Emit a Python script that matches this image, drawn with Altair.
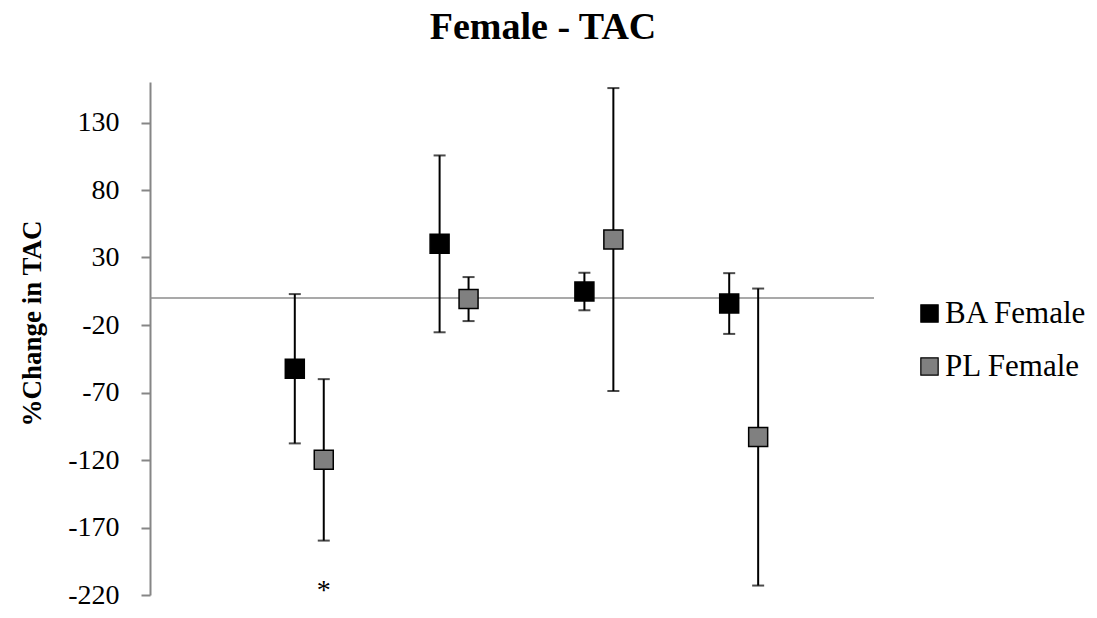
import altair as alt
import pandas as pd

# ---- data ----
groups = [1, 2, 3, 4]
series_names = ["BA Female", "PL Female"]
series_colors = ["#000000", "#808080"]
ba_mean = [-52.4, 40.1, 4.8, -4.1]
ba_err = [55.3, 65.5, 13.9, 22.5]
pl_mean = [-119.9, -0.8, 43.3, -103.0]
pl_err = [59.8, 16.3, 112.2, 110.0]
series_shift = [0.0, 0.2]
y_ticks = [-220, -170, -120, -70, -20, 30, 80, 130]
star_group = [1]
star_series = ["PL Female"]
star_value = [-213]

rows = []
for name, means, errs, shift in zip(series_names, [ba_mean, pl_mean], [ba_err, pl_err], series_shift):
    for g, m, e in zip(groups, means, errs):
        rows.append({"series": name, "x": g + shift, "mean": m, "lo": m - e, "hi": m + e})
df = pd.DataFrame(rows)

star_rows = []
for g, s, v in zip(star_group, star_series, star_value):
    star_rows.append({"x": g + series_shift[series_names.index(s)], "y": v, "t": "*"})
star_df = pd.DataFrame(star_rows)

FONT = "Liberation Serif"
xs = alt.Scale(domain=[0, 5], nice=False, zero=False)
ys = alt.Scale(domain=[-220, 160], nice=False, zero=False)

base = alt.Chart(df)

zero_line = alt.Chart(pd.DataFrame({"y": [0]})).mark_rule(color="#8c8c8c", strokeWidth=1.6).encode(
    y=alt.Y("y:Q", scale=ys)
)

err_lines = base.mark_rule(color="black", strokeWidth=2).encode(
    x=alt.X("x:Q", scale=xs, axis=None),
    y=alt.Y("lo:Q", scale=ys),
    y2="hi:Q",
)
caps_hi = base.mark_tick(color="black", orient="horizontal", size=12, thickness=2).encode(
    x=alt.X("x:Q", scale=xs), y=alt.Y("hi:Q", scale=ys)
)
caps_lo = base.mark_tick(color="black", orient="horizontal", size=12, thickness=2).encode(
    x=alt.X("x:Q", scale=xs), y=alt.Y("lo:Q", scale=ys)
)

points = base.mark_point(filled=True, shape="square", size=361, opacity=1,
                         stroke="black", strokeWidth=1.5).encode(
    x=alt.X("x:Q", scale=xs),
    y=alt.Y(
        "mean:Q",
        scale=ys,
        axis=alt.Axis(
            values=y_ticks,
            labelExpr="'' + datum.value",
            title="%Change in TAC",
            titleFont=FONT,
            titleFontSize=27,
            titleFontWeight="bold",
            titleColor="black",
            titleAngle=270,
            titleX=-110,
            titleY=241,
            titleAlign="center",
            titleBaseline="alphabetic",
            labelFont=FONT,
            labelFontSize=28,
            labelColor="black",
            labelPadding=22,
            tickSize=9,
            tickWidth=2,
            tickColor="#868686",
            domainColor="#868686",
            domainWidth=2,
            grid=False,
        ),
    ),
    color=alt.Color(
        "series:N",
        scale=alt.Scale(domain=series_names, range=series_colors),
        legend=alt.Legend(
            title=None,
            orient="none",
            legendX=764,
            legendY=216,
            symbolType="square",
            symbolSize=300,
            symbolStrokeColor="black",
            symbolStrokeWidth=1.2,
            symbolOpacity=1,
            labelFont=FONT,
            labelFontSize=31,
            labelColor="black",
            labelOffset=0,
            rowPadding=21,
        ),
    ),
)

stars = alt.Chart(star_df).mark_text(font=FONT, fontSize=28, color="black", baseline="middle", dy=5).encode(
    x=alt.X("x:Q", scale=xs), y=alt.Y("y:Q", scale=ys), text="t:N"
)

chart = alt.layer(zero_line, err_lines, caps_hi, caps_lo, points, stars).properties(
    width=724,
    height=513,
    background="white",
    title=alt.TitleParams(
        "Female - TAC",
        font=FONT,
        fontSize=38,
        fontWeight="bold",
        color="black",
        anchor="middle",
        dx=31,
        offset=35,
    ),
    padding={"left": 150, "top": 82, "right": 223, "bottom": 23},
    autosize=alt.AutoSizeParams(type="none"),
).configure_view(stroke=None, strokeWidth=0).configure_legend(labelFont=FONT, labelFontSize=31)

chart.save("out.html", embed_options={"renderer": "svg", "actions": False})
